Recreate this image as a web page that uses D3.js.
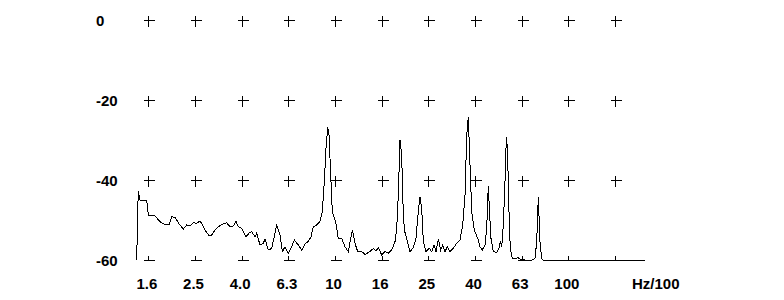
<!DOCTYPE html>
<html>
<head>
<meta charset="utf-8">
<script src="https://cdn.jsdelivr.net/npm/d3@7"></script>
<style>
  html, body { margin: 0; padding: 0; background: #fff; }
  svg { display: block; }
  text { font-family: "Liberation Sans", Arial, sans-serif; font-size: 15px; font-weight: bold; fill: #000; }
</style>
</head>
<body>
<svg id="chart" width="784" height="300"></svg>
<script>
// ---- data (frequency in Hz/100, level in dB) ----
const freq = [1.413,1.435,1.460,1.560,1.585,1.693,1.778,1.808,1.868,1.950,1.996,2.062,2.131,2.238,2.314,2.391,2.470,2.555,2.639,2.710,
  2.773,2.893,2.962,3.060,3.162,3.269,3.435,3.548,3.666,3.765,3.852,3.983,4.156,4.293,4.395,4.541,4.617,4.771,4.929,5.012,
  5.179,5.355,5.627,5.813,5.947,6.107,6.308,6.522,6.692,6.961,7.199,7.488,7.683,7.891,8.072,8.348,8.623,8.822,9.000,9.152,
  9.305,9.426,9.614,9.737,10.07,10.33,10.68,11.04,11.40,11.87,12.18,12.51,13.02,13.45,14.13,14.60,14.99,15.33,15.86,16.38,
  16.93,17.50,18.08,18.39,18.68,18.99,19.32,19.51,19.82,20.29,20.96,21.66,22.24,22.75,23.14,23.53,23.91,24.55,25.36,25.97,
  26.56,27.09,27.72,28.38,28.95,29.62,30.29,31.11,32.14,33.24,34.34,35.27,36.08,36.69,37.27,37.90,38.54,39.54,41.13,41.82,
  42.78,43.94,44.69,45.12,45.39,46.03,46.62,47.70,49.32,50.46,51.11,51.82,52.64,53.53,54.06,54.43,54.98,55.68,56.39,57.54,
  59.08,60.67,62.08,65.21,69.66,71.98,73.20,74.35,75.61,76.89,78.12,213.1];
const level = [-60,-42.7,-45,-45,-48.75,-49,-50.4,-50.7,-51.1,-51.1,-49.2,-49.3,-50.7,-52.3,-51.25,-51.5,-50.7,-50.8,-50.2,-51.25,
  -52.5,-54,-53.75,-52.5,-51.7,-51.1,-50.7,-51.7,-51.5,-50.4,-51.7,-52.1,-54.2,-53.2,-52.9,-54.2,-53.3,-56.25,-55.8,-54.75,
  -57.5,-57.1,-51.25,-53.75,-57.9,-56.7,-58.3,-56.7,-55,-56.25,-57.5,-55.8,-55.4,-54.2,-51.7,-51.25,-50.4,-47.9,-40.4,-32.1,
  -26.7,-28.75,-40.4,-47.9,-50.4,-54.6,-54.6,-56.7,-57.9,-52.5,-55.8,-57.9,-57.9,-58.6,-57.9,-57.1,-57.75,-56.9,-58.75,-57.9,
  -58.3,-57.5,-55.4,-52.1,-43.75,-30,-33.75,-44.6,-52.5,-54.6,-57.9,-56.9,-54.6,-47.9,-44.2,-47.1,-55.4,-57.9,-57.1,-57.9,
  -56.25,-57.9,-54.75,-57.5,-56.25,-57.9,-56.7,-57.9,-57.1,-55.8,-55,-51.25,-43.75,-28.75,-24.2,-36.25,-47.9,-52.5,-55,-56.7,
  -57.5,-56.25,-52.1,-45.4,-41.4,-48.75,-54.6,-57.9,-58.1,-57.1,-55.25,-56.7,-51.25,-40.4,-32.1,-29.2,-34.6,-47.9,-57.1,-59.6,
  -59.75,-59.4,-59.75,-60,-60,-59.6,-55.4,-44.2,-55.4,-59.75,-60,-60];

// ---- ticks ----
const xTickValues = [1.585, 2.512, 3.981, 6.310, 10, 15.85, 25.12, 39.81, 63.10, 100, 158.5];
const xTickLabels = ["1.6", "2.5", "4.0", "6.3", "10", "16", "25", "40", "63", "100", ""];
const yTickValues = [0, -20, -40, -60];
const yTickLabels = ["0", "-20", "-40", "-60"];
const unitLabel = "Hz/100";

// ---- scales ----
const x = d3.scaleLog().domain([1.585, 158.5]).range([148.33, 615]);
const y = d3.scaleLinear().domain([0, -60]).range([20, 260]);

const svg = d3.select("#chart");

svg.append("defs").append("clipPath").attr("id", "plotclip")
  .append("rect").attr("x", 0).attr("y", 0).attr("width", 784).attr("height", y(-60) + 1);

// grid crosses
const crosses = svg.append("g").attr("clip-path", "url(#plotclip)")
  .attr("stroke", "#000").attr("stroke-width", 1).attr("shape-rendering", "crispEdges");
const pts = [];
yTickValues.forEach(v => xTickValues.forEach(f => pts.push([f, v])));
crosses.selectAll("path.cross").data(pts).join("path")
  .attr("class", "cross")
  .attr("d", d => {
    const cx = Math.round(x(d[0])) + 0.5, cy = Math.round(y(d[1])) + 0.5;
    return `M${cx - 5},${cy}H${cx + 6}M${cx},${cy - 5}V${cy + 6}`;
  });

// spectrum line
const line = d3.line().x((d, i) => x(freq[i])).y(d => y(d));
svg.append("path").datum(level)
  .attr("clip-path", "url(#plotclip)")
  .attr("fill", "none").attr("stroke", "#000").attr("stroke-width", 1)
  .attr("shape-rendering", "crispEdges")
  .attr("d", line);

// y labels
svg.append("g").selectAll("text").data(yTickValues).join("text")
  .attr("x", 96).attr("y", d => y(d) + 6)
  .text((d, i) => yTickLabels[i]);

// x labels via axis
const xAxis = d3.axisBottom(x).tickValues(xTickValues)
  .tickFormat((d, i) => xTickLabels[i]).tickSize(0);
const gx = svg.append("g").attr("transform", "translate(-2,0)").call(xAxis);
gx.select(".domain").remove();
gx.selectAll("text")
  .attr("y", 289).attr("dy", null)
  .attr("font-family", null).attr("font-size", null);
gx.attr("font-family", null).attr("font-size", null);

svg.append("text").attr("x", 632).attr("y", 289).text(unitLabel);
</script>
</body>
</html>
